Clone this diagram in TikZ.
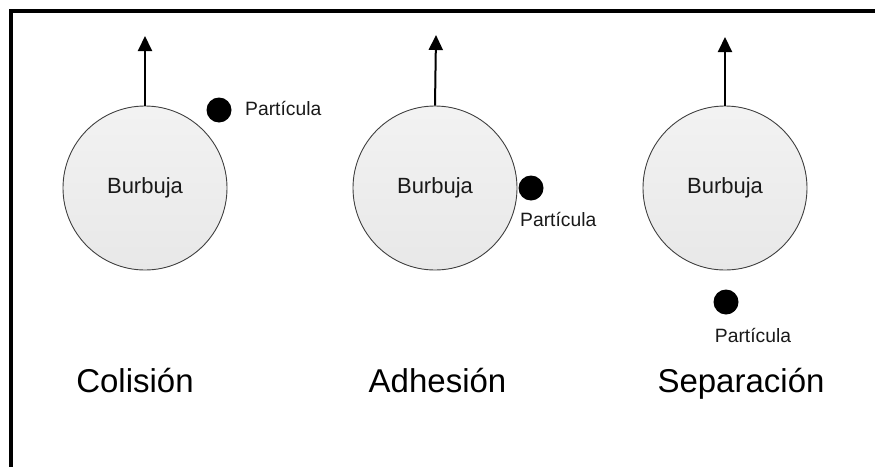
\documentclass[tikz,border=0pt]{standalone}
\usepackage{fontspec}
\setmainfont{Liberation Sans}
\usetikzlibrary{arrows.meta}
\begin{document}
\begin{tikzpicture}[x=1pt,y=-1pt,
  bubble/.style={circle, draw=black!75, line width=0.9pt, minimum size=164pt,
    inner sep=0pt, top color=black!5, bottom color=black!9,
    font=\fontsize{22}{22}\selectfont, text=black!90},
  particle/.style={circle, fill=black, minimum size=25pt, inner sep=0pt},
  plabel/.style={inner sep=0pt, font=\fontsize{19.3}{19.3}\selectfont, text=black!90},
  stage/.style={inner sep=0pt, anchor=base, font=\fontsize{33}{33}\selectfont, text=black},
  rise/.style={line width=2pt, -{Triangle[length=15pt,width=14pt]}}]
\useasboundingbox (0,0) rectangle (875,466);
\begin{scope}
  \clip (0,0) rectangle (875,466);
  \draw[line width=3.2pt] (11,500) -- (11,11) -- (900,11);
\end{scope}

% Colisión
\node[bubble] (b1) at (145,188) {Burbuja};
\coordinate (t1) at (145,36);
\draw[rise] (b1.north) -- (t1);
\node[particle] (p1) at (219,110) {};
\node[plabel, anchor=base west] (l1) at (245,115) {Partícula};
\node[stage] (s1) at (135,392) {Colisión};

% Adhesión
\node[bubble] (b2) at (435,188) {Burbuja};
\coordinate (t2) at (436,35);
\draw[rise] (b2.north) -- (t2);
\node[particle] (p2) at (531,188) {};
\node[plabel, anchor=base west] (l2) at (520,226) {Partícula};
\node[stage] (s2) at (437.5,392) {Adhesión};

% Separación
\node[bubble] (b3) at (725,188) {Burbuja};
\coordinate (t3) at (725,37);
\draw[rise] (b3.north) -- (t3);
\node[particle] (p3) at (726,302) {};
\node[plabel, anchor=base] (l3) at (753,342) {Partícula};
\node[stage] (s3) at (741,392) {Separación};
\end{tikzpicture}
\end{document}
